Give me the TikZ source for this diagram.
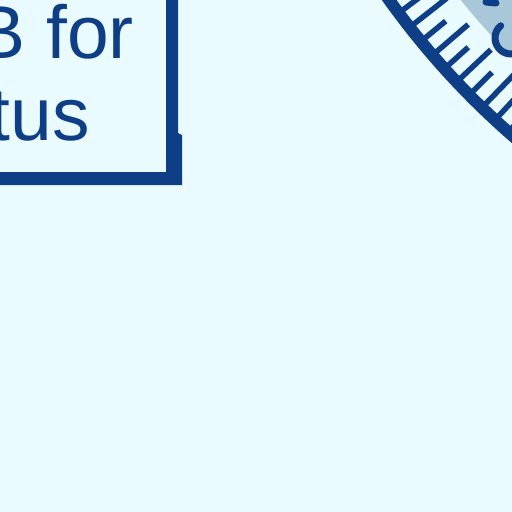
\documentclass[tikz,border=0pt]{standalone}
\usepackage{fontspec}
\setmainfont{Liberation Sans}
\definecolor{bg}{HTML}{E9FBFE}
\definecolor{navy}{HTML}{0E3E86}
\definecolor{haze}{HTML}{A8C8DA}
\begin{document}
\begin{tikzpicture}[x=1pt,y=1pt,
  tickline/.style={navy,line width=5.5pt},
  bandline/.style={navy,line width=12pt},
  lbl/.style={text=navy,inner sep=0pt,font=\fontsize{75}{80}\selectfont}]
\fill[bg] (0,-512) rectangle (512,0);
\useasboundingbox (0,-512) rectangle (512,0);
\begin{scope}
\clip (0,-512) rectangle (512,0);
% box border with shadow
\fill[navy] (166,0) -- (178,0) -- (178,-133) -- (182,-135) -- (182,-185) -- (0,-185) -- (0,-172) -- (166,-172) -- cycle;
\node[lbl,anchor=base east] (line1) at (134,-58) {B for};
\node[lbl,anchor=base east] (line2) at (90,-140) {tus};
% dial
\coordinate (C) at (1034.5,462.6);
\fill[haze,shift={(C)}] (0,0) circle (737);
\foreach \k in {0,...,20}{
  \pgfmathsetmacro\a{223.3+1.3*(\k-12)}
  \pgfmathsetmacro\L{iseven(\k) ? 42 : 27}
  \draw[tickline,shift={(C)}] (\a:789) -- (\a:{789-\L});
}
\draw[bandline,shift={(C)}] (212:794) arc[start angle=212,end angle=232,radius=794];
\coordinate (R) at (511,-38);
\draw[navy,line width=7pt,line cap=round,shift={(R)}] (130:16) arc[start angle=130,end angle=370,radius=16];
\draw[navy,line width=7pt,line cap=round] (486,-2) -- (496,-3);
\end{scope}
\end{tikzpicture}
\end{document}
